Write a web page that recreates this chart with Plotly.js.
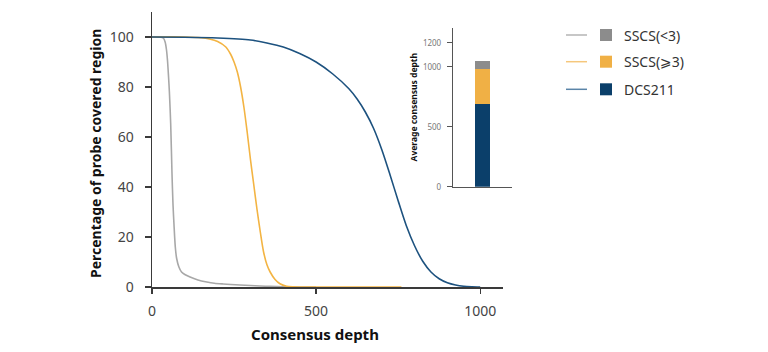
<!DOCTYPE html>
<html>
<head>
<meta charset="utf-8">
<script src="https://cdn.plot.ly/plotly-3.0.1.min.js"></script>
<style>html,body{margin:0;padding:0;background:#fff;}#chart{width:768px;height:352px;}</style>
</head>
<body>
<div id="chart"></div>
<script>
// ---- Data ----
const seriesNames = ["SSCS(<3)", "SSCS(\u2A7E3)", "DCS211"];
const lineColors = ["#a8a8a8", "#f3b443", "#1d527f"];
const legendLineColors = ["#b4b4b4", "#f5c77c", "#5a84a8"];
const barColors = ["#8c8c8c", "#f0b045", "#0b3f6a"];

const grayDepth = [0, 25, 35, 40, 44, 47, 50, 53, 57, 61, 64, 67, 71, 75, 82, 90, 100, 116, 140, 167, 190, 217, 240, 268, 300, 329, 360, 400, 450, 500];
const grayPct   = [100, 100, 99.5, 98, 95, 91, 85, 78, 65, 45, 33, 25, 16, 11.5, 8, 6, 5, 4, 2.8, 2, 1.5, 1.2, 1.0, 0.8, 0.6, 0.4, 0.25, 0.1, 0.03, 0];

const yellowDepth = [0, 100, 150, 175, 200, 225, 240, 250, 260, 270, 280, 290, 300, 310, 320, 330, 340, 350, 360, 375, 390, 410, 430, 450, 500, 600, 700, 760];
const yellowPct   = [100, 100, 99.7, 99.2, 98.2, 96, 93, 90, 86, 80, 72, 62, 51, 41, 31, 22, 14, 9, 6, 3, 1.3, 0.3, 0.05, 0, 0, 0, 0, 0];

const blueDepth = [0, 100, 200, 300, 350, 400, 450, 500, 550, 600, 625, 650, 675, 700, 725, 750, 775, 800, 825, 850, 875, 900, 925, 950, 975, 1000];
const bluePct   = [100, 99.9, 99.6, 98.8, 97.6, 96, 93.4, 90, 85.3, 79.3, 75.2, 70, 63.5, 55, 45, 34.5, 24.5, 16.5, 10.3, 6, 3.3, 1.7, 0.8, 0.3, 0.1, 0];

const barCategory = ["avg"];
const barValues = [70, 290, 690];   // SSCS(<3), SSCS(>=3), DCS211 (stacked)

const xTickVals = [0, 500, 1000];
const yTickVals = [0, 20, 40, 60, 80, 100];
const insetTickVals = [0, 500, 1000, 1200];

// ---- Traces ----
const depths = [grayDepth, yellowDepth, blueDepth];
const pcts = [grayPct, yellowPct, bluePct];
const traces = [];
for (let i = 0; i < 3; i++) {
  traces.push({
    type: "scatter", mode: "lines", x: depths[i], y: pcts[i],
    name: seriesNames[i], line: {color: lineColors[i], width: 1.6, shape: "spline", smoothing: 0.8},
    xaxis: "x", yaxis: "y", showlegend: false, hoverinfo: "skip"
  });
}
// stacked bar: bottom first
for (let i = 2; i >= 0; i--) {
  traces.push({
    type: "bar", x: barCategory, y: [barValues[i]], name: seriesNames[i],
    marker: {color: barColors[i], line: {width: 0}}, width: 0.24,
    xaxis: "x2", yaxis: "y2", showlegend: false, hoverinfo: "skip"
  });
}

// ---- Layout helpers (paper coords) ----
const L = 152, T = 12, W = 360, H = 275;
const px = v => (v - L) / W;
const py = v => (T + H - v) / H;

const rowY = [35, 61.7, 89.3];
const shapes = [], annotations = [];
for (let i = 0; i < 3; i++) {
  shapes.push({type: "line", xref: "paper", yref: "paper", x0: px(566), x1: px(587), y0: py(rowY[i]), y1: py(rowY[i]),
    line: {color: legendLineColors[i], width: 1.5}});
  shapes.push({type: "rect", xref: "paper", yref: "paper", x0: px(600), x1: px(612), y0: py(rowY[i] - 6), y1: py(rowY[i] + 6),
    fillcolor: barColors[i], line: {width: 0}});
  annotations.push({xref: "paper", yref: "paper", x: px(622), y: py(rowY[i]), xanchor: "left", yanchor: "middle",
    text: seriesNames[i], showarrow: false, font: {family: "Noto Sans, DejaVu Sans", size: 14, color: "#333"}});
}
annotations.push({xref: "paper", yref: "paper", x: px(315), y: py(334), xanchor: "center", yanchor: "middle",
  text: "<b>Consensus depth</b>", showarrow: false, font: {family: "Noto Sans", size: 15, color: "#111"}});
annotations.push({xref: "paper", yref: "paper", x: px(95), y: py(154), xanchor: "center", yanchor: "middle", textangle: -90,
  text: "<b>Percentage of probe covered region</b>", showarrow: false, font: {family: "Noto Sans", size: 14, color: "#111"}});
annotations.push({xref: "paper", yref: "paper", x: px(413), y: py(107.5), xanchor: "center", yanchor: "middle", textangle: -90,
  text: "<b>Average consensus depth</b>", showarrow: false, font: {family: "Noto Sans", size: 8.5, color: "#111"}});

const layout = {
  width: 768, height: 352,
  margin: {l: L, r: 768 - L - W, t: T, b: 352 - T - H, pad: 0},
  paper_bgcolor: "#fff", plot_bgcolor: "rgba(0,0,0,0)",
  showlegend: false, barmode: "stack",
  font: {family: "Noto Sans", color: "#444"},
  xaxis: {domain: [0, 350.5 / 360], range: [0, 1068], showgrid: false, zeroline: false,
    showline: true, linecolor: "#3a3a3a", linewidth: 1.5, ticks: "outside", ticklen: 5, tickcolor: "#3a3a3a", tickwidth: 1.3,
    tickvals: xTickVals, ticklabelstandoff: 6, tickfont: {size: 14, color: "#444"}, anchor: "y"},
  yaxis: {domain: [0, 1], range: [0, 110], showgrid: false, zeroline: false,
    showline: true, linecolor: "#3a3a3a", linewidth: 1.5, ticks: "outside", ticklen: 6, tickcolor: "#3a3a3a", tickwidth: 1.3,
    tickvals: yTickVals, ticklabelstandoff: 8, tickfont: {size: 14, color: "#444"}, anchor: "x"},
  xaxis2: {domain: [px(453), px(512)], type: "category", range: [-0.5, 0.5], showgrid: false, zeroline: false,
    showline: true, linecolor: "#555", linewidth: 1.2, ticks: "", showticklabels: false, anchor: "y2"},
  yaxis2: {domain: [py(186.7), py(28.3)], range: [0, 1320], showgrid: false, zeroline: false,
    showline: true, linecolor: "#555", linewidth: 1.2, ticks: "outside", ticklen: 5, tickcolor: "#555", tickwidth: 1,
    tickvals: insetTickVals, ticklabelstandoff: 4, tickfont: {size: 8, color: "#777"}, anchor: "x2"},
  shapes: shapes, annotations: annotations
};

Plotly.newPlot("chart", traces, layout, {displayModeBar: false, staticPlot: true});
</script>
</body>
</html>
